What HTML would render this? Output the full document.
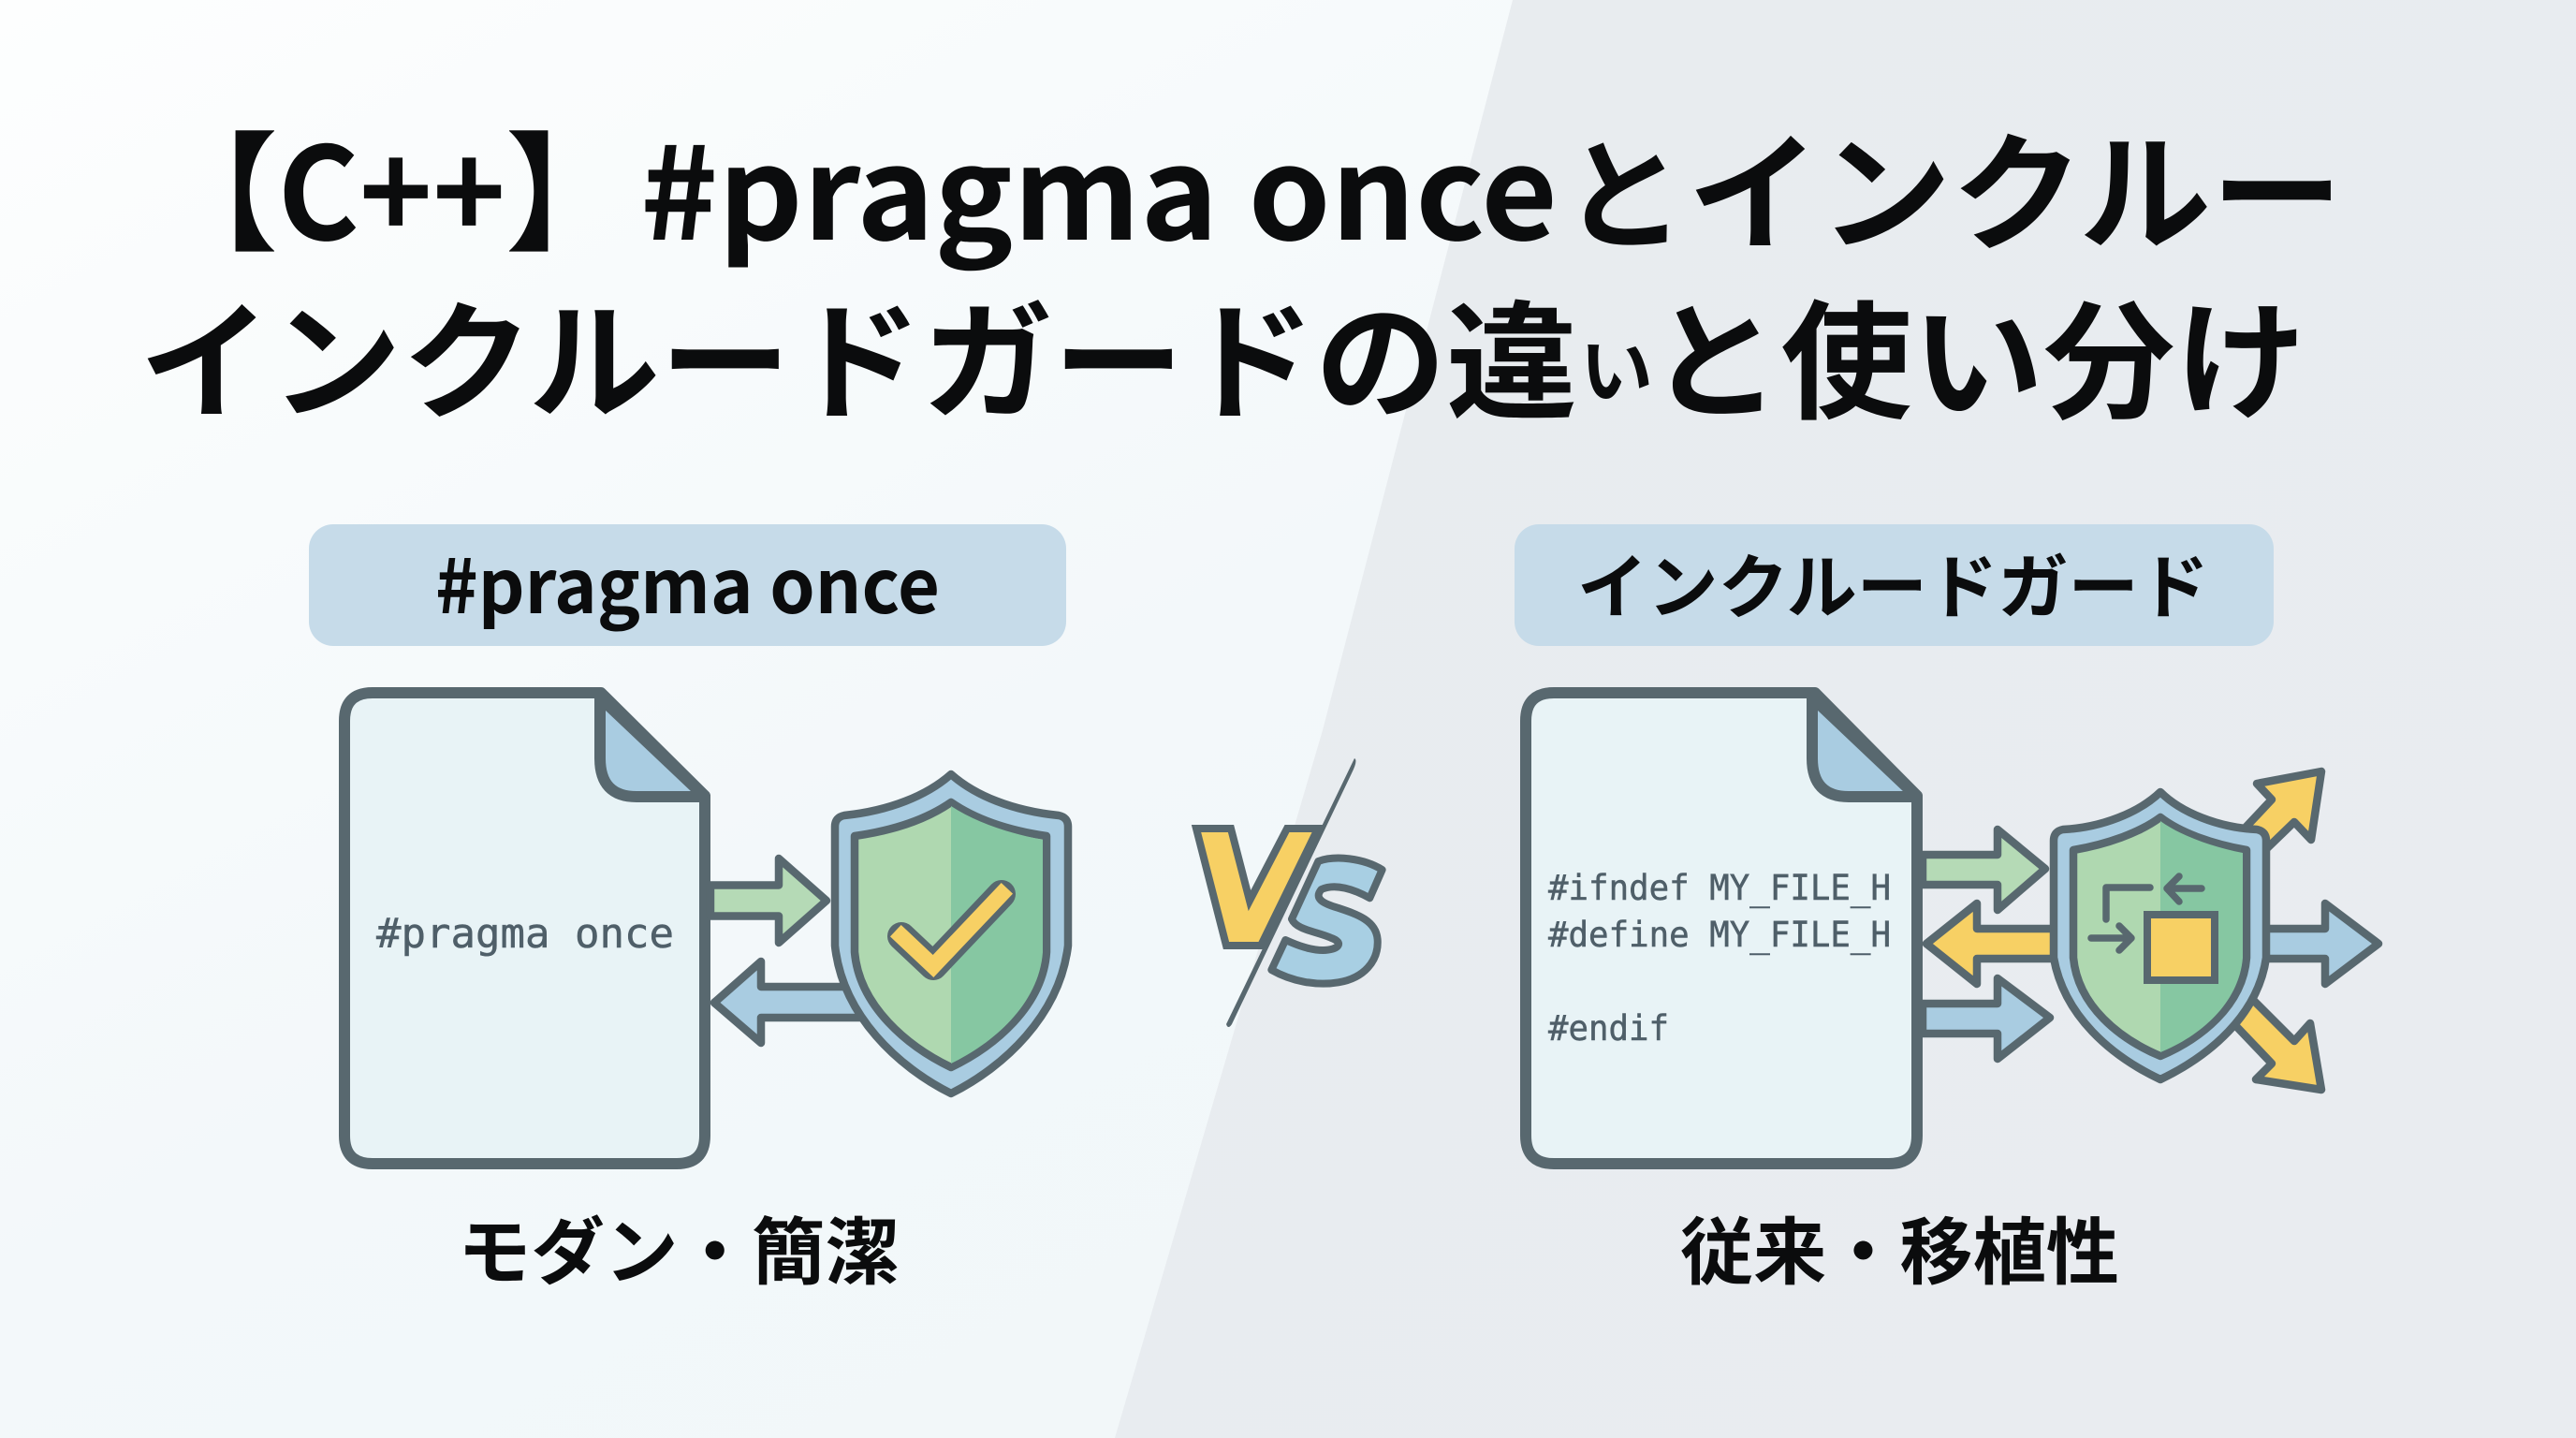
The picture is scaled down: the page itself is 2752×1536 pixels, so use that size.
<!DOCTYPE html>
<html lang="ja"><head><meta charset="utf-8"><title>#pragma once vs インクルードガード</title>
<style>
html,body{margin:0;padding:0;width:2752px;height:1536px;overflow:hidden;background:#f3f7f9}
svg{display:block}
.n{font-family:"Noto Sans CJK JP",sans-serif;font-weight:700;fill:#0b0c0d}
.m{font-family:"DejaVu Sans Mono","Liberation Mono",monospace;fill:#4f5f69;stroke:#4f5f69;stroke-width:.5}
</style></head><body>
<svg width="2752" height="1536" viewBox="0 0 2752 1536" xmlns="http://www.w3.org/2000/svg">
<defs>
<linearGradient id="l" x1="0" y1="0" x2="1" y2="1"><stop offset="0" stop-color="#fdfefe"/><stop offset=".45" stop-color="#f3f8fa"/><stop offset="1" stop-color="#f0f6f8"/></linearGradient>
<linearGradient id="r" x1="0" y1="0" x2="1" y2="1"><stop offset="0" stop-color="#e8ecef"/><stop offset="1" stop-color="#e9ecf0"/></linearGradient>
</defs>
<rect width="2752" height="1536" fill="url(#l)"/>
<polygon points="1616,0 2752,0 2752,1536 1191,1536 1313,1120 1413,780" fill="url(#r)"/>

<text class="n" x="164" y="256" font-size="137" textLength="509" lengthAdjust="spacingAndGlyphs">【C++】</text>
<text class="n" x="684" y="256" font-size="137" textLength="980" lengthAdjust="spacingAndGlyphs">#pragma once</text>
<text class="n" x="1670" y="256" font-size="130">と</text>
<text class="n" x="1803" y="256" font-size="137" textLength="700" lengthAdjust="spacingAndGlyphs">インクルー</text>
<text class="n" x="149" y="436" font-size="137" textLength="1536" lengthAdjust="spacingAndGlyphs">インクルードガードの違</text>
<text class="n" x="1688" y="424" font-size="78">い</text>
<text class="n" x="1762" y="436" font-size="137" textLength="702" lengthAdjust="spacingAndGlyphs">と使い分け</text>

<rect x="330" y="560" width="809" height="130" rx="26" fill="#c6dbe9"/>
<rect x="1618" y="560" width="811" height="130" rx="26" fill="#c6dbe9"/>
<text class="n" x="465" y="655" font-size="80" textLength="539" lengthAdjust="spacingAndGlyphs">#pragma once</text>
<text class="n" x="1685" y="654" font-size="75" textLength="675" lengthAdjust="spacingAndGlyphs">インクルードガード</text>

<g stroke="#58686f" stroke-width="12" stroke-linejoin="round">
<path d="M398 740L642 740L753 850L753 1213Q753 1243 723 1243L398 1243Q368 1243 368 1213L368 770Q368 740 398 740Z" fill="#e8f3f6"/>
<path d="M641 745L641 810Q641 851 680 851L753 851Z" fill="#a9cce1"/>
<path d="M1660 740L1939 740L2048 850L2048 1213Q2048 1243 2018 1243L1660 1243Q1630 1243 1630 1213L1630 770Q1630 740 1660 740Z" fill="#e8f3f6"/>
<path d="M1936 745L1936 810Q1936 851 1975 851L2048 851Z" fill="#a9cce1"/>
</g>
<g stroke="#58686f" stroke-width="8.5" stroke-linejoin="round">
<!-- arrows 1 -->
<path d="M759 945.5L832 945.5L832 917L883 962L832 1007L832 978.5L759 978.5Z" fill="#b5dab6"/>
<path d="M930 1054L813 1054L813 1027L763 1071L813 1114L813 1087L930 1087Z" fill="#a9cce1"/>
<!-- arrows 2 -->
<path d="M2054 913L2134 913L2134 886L2185 928L2134 972L2134 945L2054 945Z" fill="#b5dab6"/>
<path d="M2215 992L2112 992L2112 965L2058 1008L2112 1051L2112 1024L2215 1024Z" fill="#f7d064"/>
<path d="M2054 1072L2134 1072L2134 1045L2190 1087L2134 1131L2134 1104L2054 1104Z" fill="#a9cce1"/>
<path d="M2410 992L2484 992L2484 965L2541 1008L2484 1051L2484 1024L2410 1024Z" fill="#a9cce1"/>
<path d="M2395 888L2427 854L2411 837L2480 824L2469 897L2451 878L2420 908Z" fill="#f7d064"/>
<path d="M2385 1092L2427 1136L2410 1153L2480 1164L2468 1093L2451 1112L2405 1066Z" fill="#f7d064"/>
<!-- shield 1 -->
<path d="M1016 827C990 850 950 866 902 871Q892 873 892 883L892 1010C900 1085 960 1140 1016 1168C1072 1140 1132 1085 1141 1010L1141 883Q1141 873 1131 871C1082 866 1042 850 1016 827Z" fill="#a9cce1"/>
<path d="M1016 857C990 875 955 887 913 893L913 1017C918 1075 970 1118 1016 1140C1062 1118 1114 1075 1118 1017L1118 893C1077 887 1042 875 1016 857Z" fill="#afd8b0"/>
<path d="M1016 861C1042 878 1077 890 1114 897L1114 1017C1110 1073 1060 1115 1016 1136Z" fill="#86c7a2" stroke="none"/>
<!-- shield 2 -->
<path d="M2308 846C2285 868 2245 884 2204 886Q2194 888 2194 898L2194 1023C2205 1085 2255 1128 2308 1153C2360 1128 2412 1085 2421 1023L2421 898Q2421 888 2411 886C2370 884 2330 868 2308 846Z" fill="#a9cce1"/>
<path d="M2308 873C2285 890 2250 902 2215 908L2215 1023C2220 1075 2265 1110 2308 1128C2350 1110 2396 1075 2400 1023L2400 908C2365 902 2330 890 2308 873Z" fill="#afd8b0"/>
<path d="M2308 877C2330 893 2365 905 2396 911L2396 1023C2392 1072 2350 1107 2308 1124Z" fill="#86c7a2" stroke="none"/>
<rect x="2294" y="977" width="72" height="70" fill="#f7d064" stroke-width="8" stroke-linejoin="miter"/>
</g>
<g fill="none" stroke="#58686f" stroke-width="7.5" stroke-linecap="round" stroke-linejoin="round">
<path d="M2250 982L2250 948L2297 948"/>
<path d="M2352 949L2317 949M2328 936L2315 949L2328 963"/>
<path d="M2234 1002L2275 1002M2264 989L2277 1002L2264 1015"/>
</g>
<path d="M963 1000L997 1032L1070 955" fill="none" stroke="#58686f" stroke-width="30" stroke-linejoin="round" stroke-linecap="round"/>
<path d="M963 1000L997 1032L1070 955" fill="none" stroke="#f7d064" stroke-width="17" stroke-linejoin="miter" stroke-linecap="square"/>

<!-- VS -->
<polygon points="1278,885 1315,885 1335,962 1375,885 1408,885 1347,1010 1310,1010" fill="#f7d064" stroke="#58686f" stroke-width="8" stroke-linejoin="miter"/>
<path d="M1447 810Q1451 812 1444 826L1316 1094Q1312 1100 1310 1094Z" fill="#58686f"/>
<path transform="translate(1200 780) scale(.3333)" d="M830 447C770 410 680 400 625 420L540 605C555 640 620 645 665 665C710 680 690 705 640 705C600 705 560 690 520 672L475 768C540 805 620 820 690 808C770 795 820 740 815 670C810 610 750 590 690 570C640 555 610 540 635 510C680 490 740 510 790 538Z" fill="#a8cfe3" stroke="#58686f" stroke-width="24" stroke-linejoin="round"/>

<text class="m" x="402" y="1012" font-size="44" textLength="318" lengthAdjust="spacingAndGlyphs">#pragma once</text>
<text class="m" x="1654" y="961" font-size="37" textLength="366" lengthAdjust="spacingAndGlyphs">#ifndef MY_FILE_H</text>
<text class="m" x="1654" y="1011" font-size="37" textLength="366" lengthAdjust="spacingAndGlyphs">#define MY_FILE_H</text>
<text class="m" x="1654" y="1111" font-size="37" textLength="129" lengthAdjust="spacingAndGlyphs">#endif</text>

<text class="n" x="489" y="1365" font-size="78" textLength="471" lengthAdjust="spacingAndGlyphs">モダン・簡潔</text>
<text class="n" x="1795" y="1365" font-size="78" textLength="469" lengthAdjust="spacingAndGlyphs">従来・移植性</text>
</svg>
</body></html>
